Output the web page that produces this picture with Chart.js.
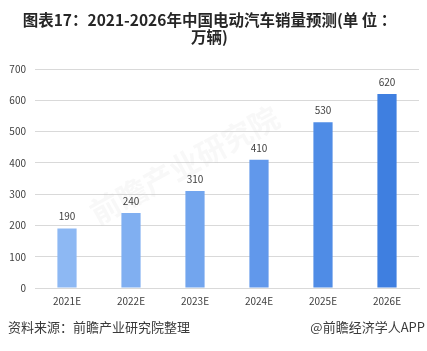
<!DOCTYPE html>
<html>
<head>
<meta charset="utf-8">
<script src="https://cdn.jsdelivr.net/npm/chart.js@4"></script>
<style>
  html, body { margin: 0; padding: 0; background: #fff; }
  #wrap { width: 427px; height: 351px; }
</style>
</head>
<body>
<div id="wrap"><canvas id="chartSales"></canvas></div>
<script>
var years = ['2021E', '2022E', '2023E', '2024E', '2025E', '2026E'];
var sales = [190, 240, 310, 410, 530, 620];
var yTicks = [0, 100, 200, 300, 400, 500, 600, 700];
var barColors = ['#8db8f3', '#80aff1', '#72a5ee', '#6198eb', '#4f8ce6', '#3f7fe0'];

var FONT = '"Noto Sans CJK SC", "Noto Sans", sans-serif';

// value labels above bars + footer texts
var extras = {
  id: 'extras',
  afterDatasetsDraw: function (chart) {
    var c = chart.ctx;
    var meta = chart.getDatasetMeta(0);
    c.save();
    c.font = '10px ' + FONT;
    c.fillStyle = '#404040';
    c.textAlign = 'center';
    c.textBaseline = 'middle';
    meta.data.forEach(function (bar, i) {
      c.fillText(sales[i], bar.x, bar.y - 12);
    });
    c.font = '13px ' + FONT;
    c.fillStyle = '#3a3a3a';
    c.textAlign = 'left';
    c.fillText('资料来源：前瞻产业研究院整理', 8, 327);
    c.textAlign = 'right';
    c.fillText('@前瞻经济学人APP', 425, 327);
    c.restore();
  },
  beforeDatasetsDraw: function (chart) {
    // faint watermark
    var c = chart.ctx;
    c.save();
    c.translate(190, 175);
    c.rotate(-0.5);
    c.font = 'bold 30px ' + FONT;
    c.fillStyle = 'rgba(200,200,200,0.12)';
    c.textAlign = 'center';
    c.fillText('前瞻产业研究院', 0, 0);
    c.restore();
  }
};

var ctx = document.getElementById('chartSales');
var chartSales = new Chart(ctx, {
  type: 'bar',
  data: {
    labels: years,
    datasets: [{
      label: '销量',
      data: sales,
      backgroundColor: barColors,
      borderWidth: 0,
      barPercentage: 0.3,
      categoryPercentage: 1
    }]
  },
  plugins: [extras],
  options: {
    responsive: true,
    maintainAspectRatio: false,
    animation: false,
    layout: { padding: { left: 0, right: 8, top: 0, bottom: 40 } },
    scales: {
      x: {
        grid: { display: false, drawTicks: false },
        border: { display: true, color: '#d9d9d9' },
        ticks: { color: '#404040', font: { size: 10, family: FONT }, padding: 7 },
        afterFit: function (s) { s.height = 23; }
      },
      y: {
        min: 0,
        max: 700,
        afterBuildTicks: function (s) { s.ticks = yTicks.map(function (v) { return { value: v }; }); },
        grid: { color: '#d9d9d9', drawTicks: false },
        border: { display: false },
        ticks: { color: '#404040', font: { size: 10, family: FONT }, padding: 9 },
        afterFit: function (s) { s.width = 35; }
      }
    },
    plugins: {
      legend: { display: false },
      tooltip: { enabled: false },
      title: {
        display: true,
        text: ['图表17：2021-2026年中国电动汽车销量预测(单 位 ：', '万辆)'],
        color: '#262626',
        font: { size: 15.5, weight: 'bold', family: FONT, lineHeight: 1.13 },
        padding: { top: 11, bottom: 23 }
      }
    }
  }
});
</script>
</body>
</html>
